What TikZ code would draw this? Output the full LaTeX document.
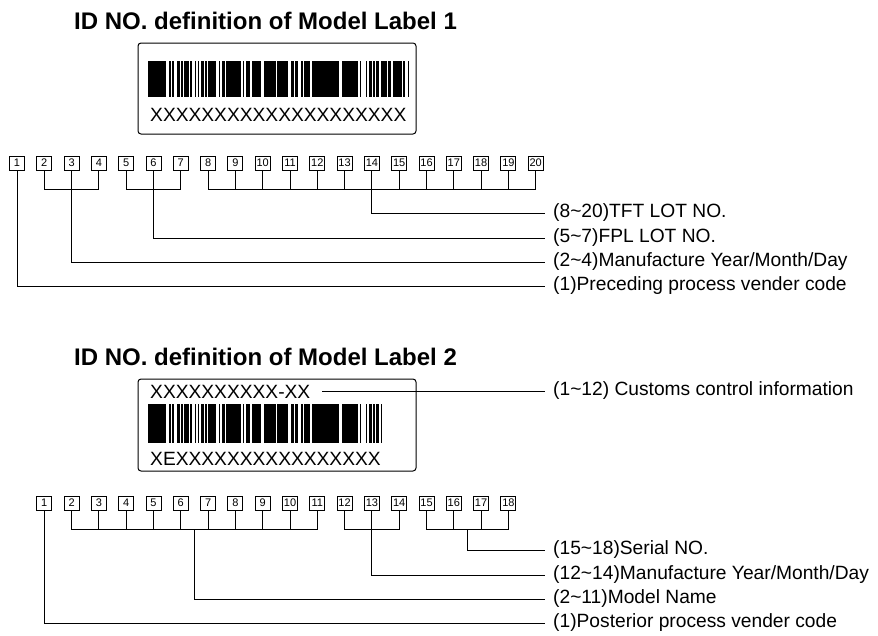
\documentclass[tikz,border=0pt]{standalone}
\usepackage{fontspec}
\setmainfont{Liberation Sans}
\usetikzlibrary{calc}

\tikzset{
    digit/.style={draw, line width=0.9pt, minimum width=15pt, minimum height=14pt, inner sep=0pt, font=\fontsize{11}{11}\selectfont},
    lead/.style={line width=1pt},
    note/.style={anchor=west, inner xsep=8pt, inner ysep=0pt, font=\fontsize{19.2}{20}\selectfont},
    title/.style={anchor=west, inner sep=0pt, font=\fontsize{24}{24}\selectfont\bfseries},
    code/.style={anchor=west, inner sep=0pt, font=\fontsize{19.2}{20}\selectfont},
    label/.style={draw, line width=1pt, rounded corners=3pt}
}

\begin{document}
\begin{tikzpicture}[x=1pt, y=-1pt]
    \useasboundingbox (0,0) rectangle (878,635);

    % Model Label 1
    \node[title] (title1) at (74,21) {ID NO. definition of Model Label 1};
    \draw[label] (138,43) rectangle (416,134);
    \pgfmathsetseed{31}
    \foreach \k in {0,...,173} {
        \pgfmathtruncatemacro\barOn{100*rnd}
        \ifnum\barOn<70 \fill (148+1.5*\k,61) rectangle ++(1.5,36); \fi
    }
    \node[code] (code1) at (150,115) {XXXXXXXXXXXXXXXXXXXX};

    \foreach \i in {1,...,20}
        \node[digit] (r1b\i) at ({17+27.3*(\i-1)},163) {\i};
    \foreach \i in {2,...,20}
        \draw[lead] (r1b\i.south) -- ++(0,19.5);
    \draw[lead] ($(r1b2.south)+(0,19.5)$) -- ($(r1b4.south)+(0,19.5)$);
    \draw[lead] ($(r1b5.south)+(0,19.5)$) -- ($(r1b7.south)+(0,19.5)$);
    \draw[lead] ($(r1b8.south)+(0,19.5)$) -- ($(r1b20.south)+(0,19.5)$);

    \node[note] (tft) at (545,213) {(8\textasciitilde20)TFT LOT NO.};
    \node[note] (fpl) at (545,238) {(5\textasciitilde7)FPL LOT NO.};
    \node[note] (mfg1) at (545,262) {(2\textasciitilde4)Manufacture Year/Month/Day};
    \node[note] (pre) at (545,286) {(1)Preceding process vender code};
    \draw[lead] (r1b14.south) |- (tft.west);
    \draw[lead] (r1b6.south) |- (fpl.west);
    \draw[lead] (r1b3.south) |- (mfg1.west);
    \draw[lead] (r1b1.south) |- (pre.west);

    % Model Label 2
    \node[title] (title2) at (74,357) {ID NO. definition of Model Label 2};
    \draw[label] (138,379) rectangle (416,471);
    \node[code] (code2) at (150,392) {XXXXXXXXXX-XX};
    \pgfmathsetseed{31}
    \foreach \k in {0,...,155} {
        \pgfmathtruncatemacro\barOn{100*rnd}
        \ifnum\barOn<70 \fill (148+1.5*\k,404) rectangle ++(1.5,39); \fi
    }
    \node[code] (code3) at (150,459) {XEXXXXXXXXXXXXXXXX};
    \node[note] (cust) at (545,391) {(1\textasciitilde12) Customs control information};
    \draw[lead] ([xshift=12pt]code2.east |- cust.west) -- (cust.west);

    \foreach \i in {1,...,18}
        \node[digit] (r2b\i) at ({17+27.3*\i},503) {\i};
    \foreach \i in {2,...,18}
        \draw[lead] (r2b\i.south) -- ++(0,19.5);
    \draw[lead] ($(r2b2.south)+(0,19.5)$) -- ($(r2b11.south)+(0,19.5)$);
    \draw[lead] ($(r2b12.south)+(0,19.5)$) -- ($(r2b14.south)+(0,19.5)$);
    \draw[lead] ($(r2b15.south)+(0,19.5)$) -- ($(r2b18.south)+(0,19.5)$);
    \coordinate (mid1) at ($(r2b6.south)!0.5!(r2b7.south)+(0,19.5)$);
    \coordinate (mid2) at ($(r2b16.south)!0.5!(r2b17.south)+(0,19.5)$);

    \node[note] (ser) at (545,550) {(15\textasciitilde18)Serial NO.};
    \node[note] (mfg2) at (545,575) {(12\textasciitilde14)Manufacture Year/Month/Day};
    \node[note] (mod) at (545,599) {(2\textasciitilde11)Model Name};
    \node[note] (post) at (545,623) {(1)Posterior process vender code};
    \draw[lead] (mid2) |- (ser.west);
    \draw[lead] (r2b13.south) |- (mfg2.west);
    \draw[lead] (mid1) |- (mod.west);
    \draw[lead] (r2b1.south) |- (post.west);
\end{tikzpicture}
\end{document}
